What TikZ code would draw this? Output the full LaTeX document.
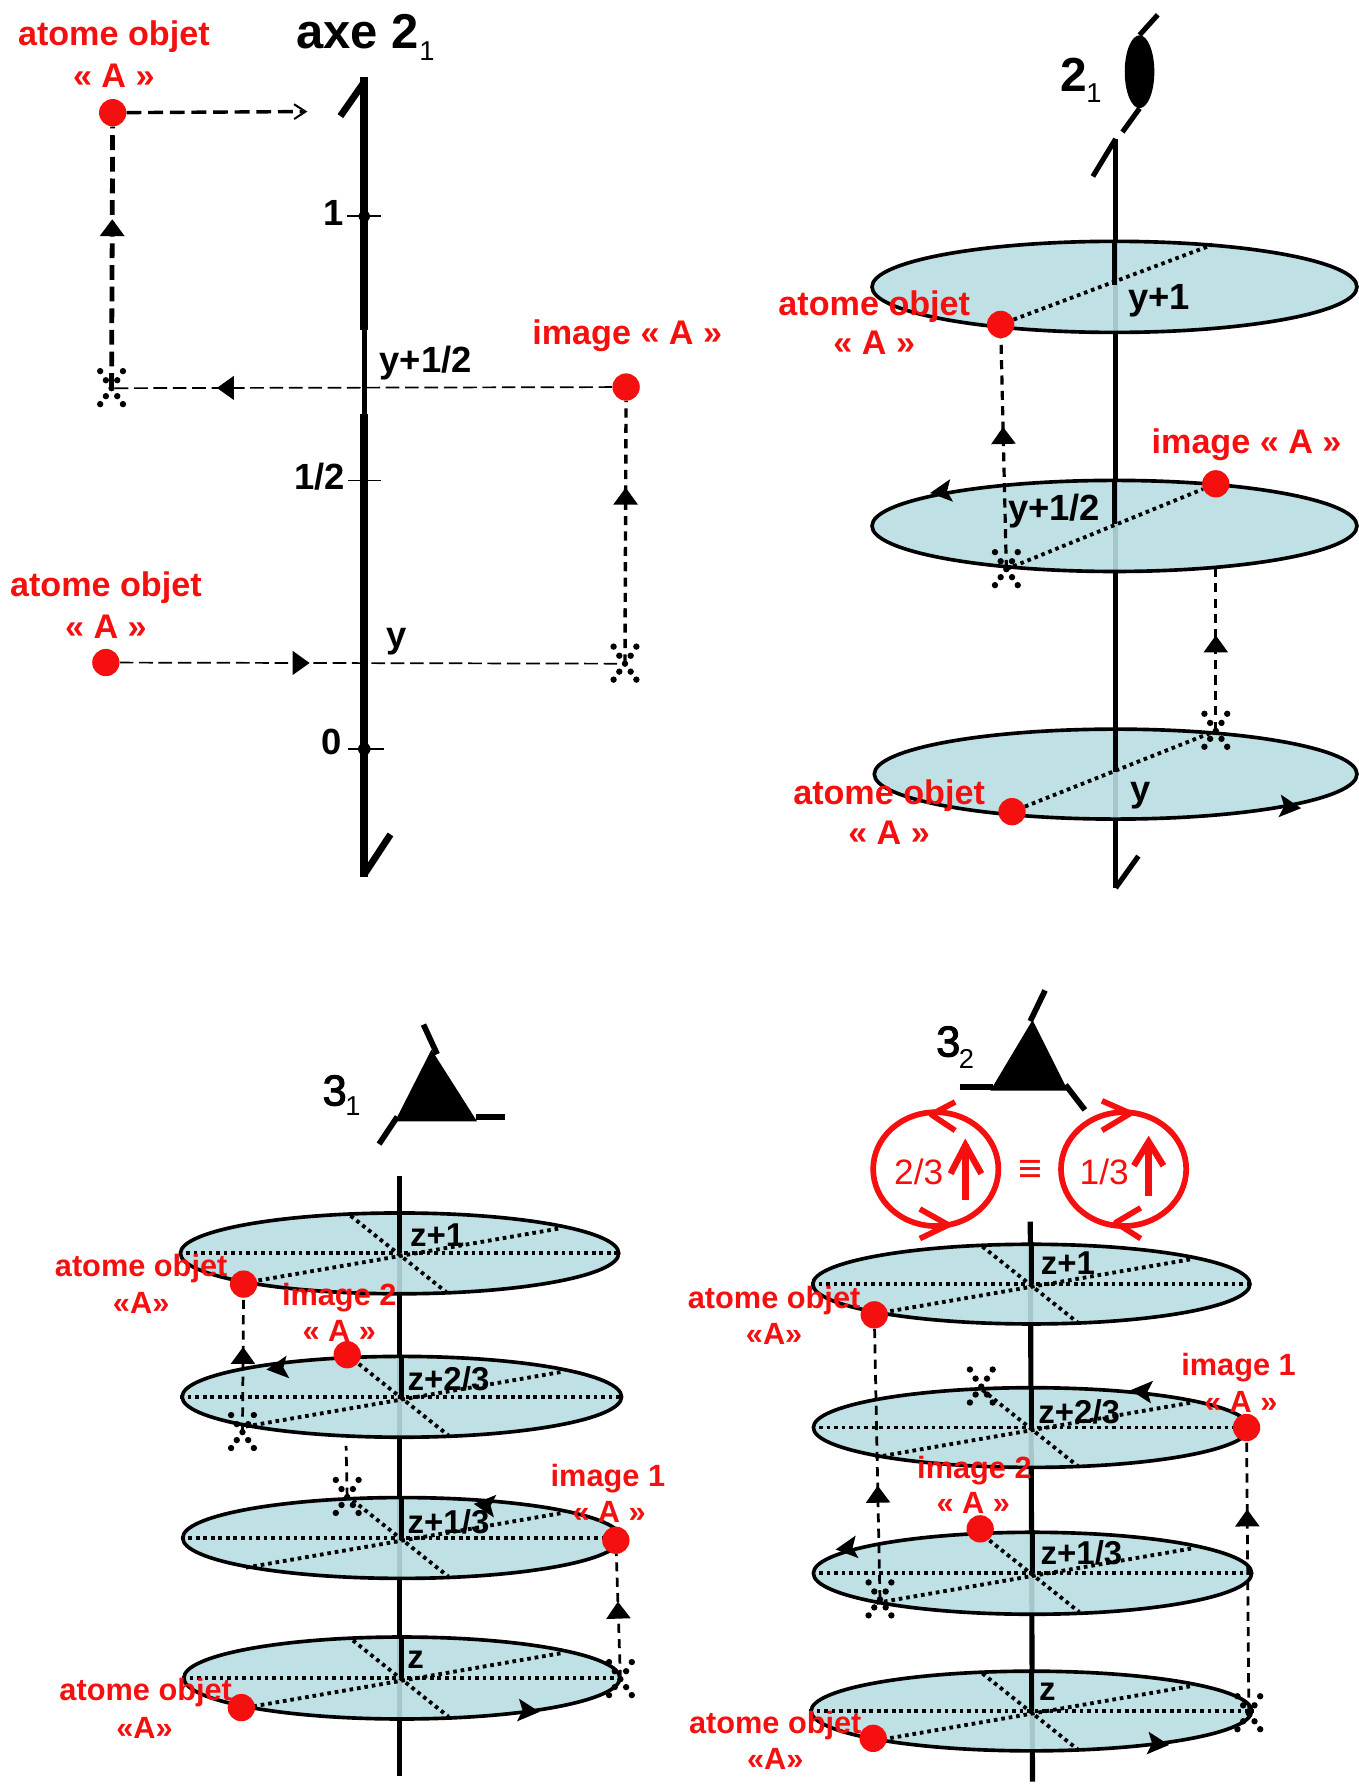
\documentclass[tikz,border=0pt]{standalone}
\usepackage{fontspec}
\setmainfont{Liberation Sans}
\newfontfamily\medfont[FakeBold=2.5]{Liberation Sans}
\usetikzlibrary{arrows.meta,shapes.geometric,decorations.markings}
\definecolor{discblue}{HTML}{B8DDE1}
\definecolor{atomred}{HTML}{F50F0F}
\tikzset{
  redbig/.style={text=atomred,font=\bfseries\fontsize{30}{34}\selectfont,inner sep=0pt,yshift=-2.5pt},
  redsmall/.style={text=atomred,font=\bfseries\fontsize{27}{31}\selectfont,inner sep=0pt,yshift=-2.5pt},
  nodesc/.style={yshift=3pt},
  blackb/.style={text=black,font=\bfseries\fontsize{32}{36}\selectfont,inner sep=0pt,yshift=-2pt},
  blackz/.style={text=black,font=\bfseries\fontsize{29}{33}\selectfont,inner sep=0pt},
  atom/.style={circle,fill=atomred,minimum size=#1,inner sep=0pt},
  atom/.default=24pt,
  starbox/.style={circle,minimum size=0pt,inner sep=0pt},
  disc/.style={ellipse,draw=black,line width=3.2pt,fill=discblue,fill opacity=0.9,draw opacity=1,inner sep=0pt},
  spokes/.style={line width=3.4pt,dash pattern=on 3.2pt off 3.4pt},
  thickdash/.style={line width=4.2pt,dash pattern=on 13pt off 6pt},
  thindash/.style={line width=1.5pt,dash pattern=on 12pt off 5pt},
  middash/.style={line width=2.4pt,dash pattern=on 8pt off 5.5pt},
  midtip/.style={postaction={decorate},decoration={markings,mark=at position #1 with {\arrow{Triangle[width=21pt,length=15pt]}}}},
  opentip/.style={-{Straight Barb[length=10pt,width=13pt,line width=1.8pt]}},
  axisheavy/.style={line width=7pt,line cap=butt},
  axismed/.style={line width=4.5pt,line cap=butt},
  axisbarb/.style={line width=5pt},
  redline/.style={draw=atomred,line width=5pt},
  tick/.style={line width=1.4pt},
}
\newcommand\starmark[3]{%
  \node[starbox] (#1) at (#2,#3) {};
  \foreach \dx/\dy in {-10/-15,10/-15,-5/-7,5/-7,0/0,-5/7,5/7,-10/14,10/14}
    \fill (#2+\dx,#3+\dy) circle (2.8);
}
\newcommand\rimtip[3]{\fill[shift={(#1,#2)},rotate=#3] (9,0) -- (-10,-10) -- (-6,0) -- (-10,10) -- cycle;}
% #1 name, #2 cx, #3 cy, #4 width, #5 height
\newcommand\spokedisc[5]{%
  \node[disc,minimum width=#4 pt,minimum height=#5 pt] (#1) at (#2,#3) {};
  \draw[spokes] (#1.west) -- (#1.east);
  \draw[spokes] (#2-43,#3-33) -- (#2+41,#3+34);
  \draw[spokes] (#2-137,#3+26) -- (#2+141,#3-22);
  \draw[axismed] (#1.north) -- (#1.center);
}
\begin{document}
\begin{tikzpicture}[x=1pt,y=-1pt]
\useasboundingbox (0,0) rectangle (1193,1568);

%% ---------- panel 1 : axe 2_1
\coordinate (p1top) at (320,68);
\coordinate (p1thinA) at (320,290);
\coordinate (p1thinB) at (320,364);
\coordinate (p1bot) at (320,770);
\coordinate (p1barbT) at (299,102);
\coordinate (p1barbB) at (343,733);
\draw[axisheavy] (p1top) -- (p1thinA);
\draw[axismed] (p1thinA) -- (p1thinB);
\draw[axisheavy] (p1thinB) -- (p1bot);
\draw[axisbarb,line width=6pt] (p1barbT) -- (320,72);
\draw[axisbarb,line width=6pt] (p1barbB) -- (320,768);
\fill (320,190) circle (5);
\fill (320,658) circle (5.5);
\draw[tick] (305,190) -- (335,190);
\draw[tick] (306,422) -- (335,422);
\draw[tick] (306,658) -- (337,658);
\node[blackb] (t1) at (293,185) {1};
\node[blackb] (t12) at (281,417) {1/2};
\node[blackb] (t0) at (291,650) {0};
\node[blackb] (ty12) at (374,317) {y+1/2};
\node[blackb] (ty) at (348,562) {y};
\node[text=black,font=\bfseries\fontsize{43}{46}\selectfont,inner sep=0pt] (axe) at (314,28) {axe 2};
\node[text=black,font=\fontsize{24}{26}\selectfont,inner sep=0pt] (axesub) at (375,45) {1};

\node[atom] (a1) at (99,99) {};
\node[atom] (i1) at (550,340) {};
\node[atom] (b1) at (93,582) {};
\starmark{s1}{98}{341}
\starmark{s2}{549}{583}
\coordinate (a1end) at (270,98);
\draw[thickdash,line width=3pt,opentip] (a1) -- (a1end);
\draw[thickdash,midtip=0.646] (s1) -- (a1);
\draw[thindash,midtip=0.79] (i1) -- (s1);
\draw[middash,line width=3pt,midtip=0.67] (s2) -- (i1);
\draw[thindash,midtip=0.376] (b1) -- (s2);

\node[redbig] (l1a) at (100,30) {atome objet};
\node[redbig,nodesc] (l1b) at (100,67) {« A »};
\node[redbig] (l1c) at (551,292) {image « A »};
\node[redbig] (l1d) at (93,514) {atome objet};
\node[redbig,nodesc] (l1e) at (93,551) {« A »};

%% ---------- panel 2 : 2_1 with discs
\coordinate (p2top) at (980,122);
\coordinate (p2bot) at (980,780);
\draw[axismed] (p2top) -- (p2bot);
\draw[axisbarb,line width=4.5pt] (960,155) -- (p2top);
\draw[axisbarb,line width=4.5pt] (1000,752) -- (p2bot);
\node[ellipse,fill=black,minimum width=26pt,minimum height=64pt,inner sep=0pt] (lens) at (1001,63) {};
\draw[axisbarb,line width=4.5pt] (1017,13) -- (lens.north);
\draw[axisbarb,line width=4.5pt] (986,116) -- (lens.south);
\node[text=black,font=\bfseries\fontsize{42}{45}\selectfont,inner sep=0pt] (two) at (943,66) {2};
\node[text=black,font=\fontsize{24}{26}\selectfont,inner sep=0pt] (twosub) at (961,82) {1};

\node[disc,minimum width=426pt,minimum height=80pt] (dA) at (979,252) {};
\node[disc,minimum width=426pt,minimum height=80pt] (dB) at (979,462) {};
\node[disc,minimum width=424pt,minimum height=79pt] (dC) at (980,680) {};
\draw[axismed] (dA.north) -- (979,250);
\draw[axismed] (dB.north) -- (979,460);
\draw[axismed] (dC.north) -- (980,678);

\node[atom] (a2) at (879,285) {};
\node[atom] (i2) at (1068,425) {};
\node[atom] (b2) at (889,713) {};
\starmark{s3}{884}{500}
\starmark{s4}{1068}{642}
\coordinate (e2a) at (1065,215);
\draw[spokes] (a2) -- (e2a);
\draw[spokes] (s3) -- (i2);
\draw[spokes] (b2) -- (s4);
\draw[middash,line width=2.8pt,midtip=0.616] (s3) -- (a2);
\coordinate (i2foot) at (1068,500);
\draw[middash,line width=2.8pt,midtip=0.59] (s4) -- (i2foot);
\rimtip{826}{432}{187}
\rimtip{1134}{709}{-6}

\node[blackb] (ty1b) at (1018,262) {y+1};
\node[blackb] (ty12b) at (926,447) {y+1/2};
\node[blackb] (tyb) at (1002,697) {y};
\node[redbig] (l2a) at (768,267) {atome objet};
\node[redbig,nodesc] (l2b) at (768,302) {« A »};
\node[redbig] (l2c) at (1095,388) {image « A »};
\node[redbig] (l2d) at (781,696) {atome objet};
\node[redbig,nodesc] (l2e) at (781,732) {« A »};

%% ---------- panel 3 : 3_1
\coordinate (p3top) at (351,1033);
\coordinate (p3bot) at (351,1560);
\draw[axismed] (p3top) -- (p3bot);
\fill (379,922) -- (419,985) -- (347,985) -- cycle;
\draw[axisbarb] (372,900) -- (384,926);
\draw[axisbarb] (418,981) -- (444,981);
\draw[axisbarb] (349,981) -- (333,1005);
\node[text=black,font=\medfont\fontsize{38}{42}\selectfont,inner sep=0pt] (three) at (294,958) {3};
\node[text=black,font=\fontsize{24}{26}\selectfont,inner sep=0pt] (threesub) at (310,972) {1};

\spokedisc{dD}{351}{1101}{385}{71}
\spokedisc{dE}{353}{1227}{386}{71}
\spokedisc{dF}{353}{1351}{385}{71}
\spokedisc{dG}{353}{1474}{383}{72}

\node[atom] (a3) at (214,1128) {};
\node[atom] (i3b) at (305,1190) {};
\node[atom] (i3a) at (541,1353) {};
\node[atom] (b3) at (212,1500) {};
\starmark{s5}{213}{1258}
\starmark{s6}{305}{1315}
\starmark{s7}{545}{1475}
\draw[middash,midtip=0.635] (s5) -- (a3);
\coordinate (i3foot) at (304,1270);
\draw[middash] (s6) -- (i3foot);
\draw[middash,midtip=0.62] (s7) -- (i3a);
\rimtip{243}{1202}{187}
\rimtip{425}{1322}{174}
\rimtip{465}{1503}{-5}

\node[blackz] (z1) at (384,1085) {z+1};
\node[blackz] (z2) at (394,1211) {z+2/3};
\node[blackz] (z3) at (394,1337) {z+1/3};
\node[blackz] (z0) at (365,1458) {z};
\node[redsmall] (l3a) at (124,1112) {atome objet};
\node[redsmall,nodesc] (l3b) at (124,1145) {«A»};
\node[redsmall] (l3c) at (298,1137) {image 2};
\node[redsmall,nodesc] (l3d) at (298,1170) {« A »};
\node[redsmall] (l3e) at (534,1296) {image 1};
\node[redsmall,nodesc] (l3f) at (535,1329) {« A »};
\node[redsmall] (l3g) at (128,1484) {atome objet};
\node[redsmall,nodesc] (l3h) at (127,1518) {«A»};

%% ---------- panel 4 : 3_2
\coordinate (p4top) at (905,1073);
\coordinate (p4bot) at (907,1565);
\draw[axismed] (p4top) -- (p4bot);
\fill (907,896) -- (938,958) -- (870,958) -- cycle;
\draw[axisbarb] (918,870) -- (905,897);
\draw[axisbarb] (843,955) -- (872,955);
\draw[axisbarb] (936,953) -- (953,975);
\node[text=black,font=\medfont\fontsize{38}{42}\selectfont,inner sep=0pt] (threeb) at (833,915) {3};
\node[text=black,font=\fontsize{24}{26}\selectfont,inner sep=0pt] (threebsub) at (849,930) {2};

\node[ellipse,redline,minimum width=110pt,minimum height=100pt,inner sep=0pt] (cL) at (822,1027) {};
\node[ellipse,redline,minimum width=110pt,minimum height=100pt,inner sep=0pt] (cR) at (987,1027) {};
\draw[redline,line join=round] (839,968) -- (818,979) -- (839,993);
\draw[redline,line join=round] (808,1062) -- (833,1076) -- (808,1088);
\draw[redline,line join=round] (968,967) -- (993,978) -- (968,993);
\draw[redline,line join=round] (1002,1061) -- (980,1074) -- (1002,1088);
\draw[redline,line width=5.6pt] (848,1054) -- (848,1005);
\draw[redline,line width=5.6pt,line join=miter] (835,1031) -- (848,1006) -- (862,1031);
\draw[redline,line width=5.6pt] (1009,1051) -- (1009,1003);
\draw[redline,line width=5.6pt,line join=miter] (996,1024) -- (1009,1003) -- (1022,1024);
\node[text=atomred,font=\fontsize{31}{34}\selectfont,inner sep=0pt] (f23) at (807,1029) {2/3};
\node[text=atomred,font=\fontsize{31}{34}\selectfont,inner sep=0pt] (f13) at (970,1029) {1/3};
\node[text=atomred,font=\fontsize{36}{38}\selectfont,inner sep=0pt] (equiv) at (905,1029) {≡};

\spokedisc{dH}{906}{1128}{384}{70}
\spokedisc{dI}{906}{1254}{383}{70}
\spokedisc{dJ}{907}{1382}{385}{72}
\spokedisc{dK}{906}{1503}{387}{70}

\node[atom] (a4) at (768,1155) {};
\node[atom] (i4a) at (1095,1254) {};
\node[atom] (i4b) at (861,1343) {};
\node[atom] (b4) at (767,1527) {};
\starmark{s8}{862}{1218}
\starmark{s9}{773}{1405}
\starmark{s10}{1097}{1505}
\draw[middash,midtip=0.42] (s9) -- (a4);
\draw[middash,midtip=0.75] (s10) -- (i4a);
\rimtip{1002}{1222}{175}
\rimtip{743}{1360}{187}
\rimtip{1018}{1532}{-5}

\node[blackz] (z1b) at (938,1110) {z+1};
\node[blackz] (z2b) at (948,1240) {z+2/3};
\node[blackz] (z3b) at (950,1364) {z+1/3};
\node[blackz] (z0b) at (920,1486) {z};
\node[redsmall] (l4a) at (680,1140) {atome objet};
\node[redsmall,nodesc] (l4b) at (680,1172) {«A»};
\node[redsmall] (l4c) at (1088,1199) {image 1};
\node[redsmall,nodesc] (l4d) at (1090,1232) {« A »};
\node[redsmall] (l4e) at (856,1289) {image 2};
\node[redsmall,nodesc] (l4f) at (855,1321) {« A »};
\node[redsmall] (l4g) at (681,1513) {atome objet};
\node[redsmall,nodesc] (l4h) at (681,1546) {«A»};
\end{tikzpicture}
\end{document}
